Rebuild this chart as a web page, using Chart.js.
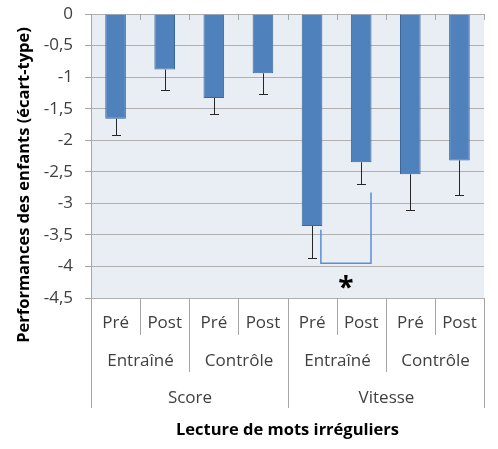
<!DOCTYPE html>
<html lang="fr">
<head>
  <meta charset="UTF-8" />
  <title>Lecture de mots irréguliers</title>
  <script src="https://cdn.jsdelivr.net/npm/chart.js"></script>
  <style>
    body {
      margin: 0;
      background: #ffffff;
    }

    .chart-box {
      width: 498px;
      height: 449px;
    }
  </style>
</head>
<body>
  <div class="chart-box">
    <canvas id="chart" width="498" height="449"></canvas>
  </div>

  <script>
    // Data
    const phases = ['Pré', 'Post', 'Pré', 'Post', 'Pré', 'Post', 'Pré', 'Post'];
    const groups = ['Entraîné', 'Contrôle', 'Entraîné', 'Contrôle'];
    const measures = ['Score', 'Vitesse'];
    const means = [-1.66, -0.88, -1.33, -0.94, -3.36, -2.35, -2.54, -2.32];
    const errors = [0.25, 0.32, 0.25, 0.32, 0.50, 0.35, 0.56, 0.55];
    const yMin = -4.5;
    const yMax = 0;
    const yStep = 0.5;

    // significance bracket between Vitesse / Entraîné Pré and Post
    const bracketFrom = 4;
    const bracketTo = 5;
    const bracketLeftTop = -3.42;
    const bracketBottom = -3.95;
    const bracketRightTop = -2.83;
    const starValue = -4.25;

    const yTitle = 'Performances des enfants (écart-type)';
    const xTitle = 'Lecture de mots irréguliers';

    const FONT = "'Open Sans', sans-serif";
    const gridGrey = '#b0b0b0';
    const axisGrey = '#a6a6a6';

    const plotBackground = {
      id: 'plotBackground',
      beforeDraw(chart) {
        const { ctx, chartArea: a } = chart;
        ctx.save();
        ctx.fillStyle = '#e9edf4';
        ctx.fillRect(a.left, a.top, a.right - a.left, a.bottom - a.top);
        ctx.restore();
      }
    };

    const errorBars = {
      id: 'errorBars',
      afterDatasetsDraw(chart) {
        const { ctx } = chart;
        const y = chart.scales.y;
        const bars = chart.getDatasetMeta(0).data;
        ctx.save();
        ctx.strokeStyle = '#262626';
        ctx.lineWidth = 1;
        bars.forEach((bar, i) => {
          const x = Math.round(bar.x) + 0.5;
          const y1 = y.getPixelForValue(means[i]);
          const y2 = Math.round(y.getPixelForValue(means[i] - errors[i])) + 0.5;
          ctx.beginPath();
          ctx.moveTo(x, y1);
          ctx.lineTo(x, y2);
          ctx.moveTo(x - 4.5, y2);
          ctx.lineTo(x + 4.5, y2);
          ctx.stroke();
        });

        // bracket + star
        const b1 = bars[bracketFrom];
        const b2 = bars[bracketTo];
        const xl = b1.x + b1.width / 2 - 1.5;
        const xr = b2.x + b2.width / 2 - 0.5;
        ctx.strokeStyle = '#5b8ed6';
        ctx.lineWidth = 1.5;
        ctx.beginPath();
        ctx.moveTo(xl, y.getPixelForValue(bracketLeftTop));
        ctx.lineTo(xl, y.getPixelForValue(bracketBottom));
        ctx.lineTo(xr, y.getPixelForValue(bracketBottom));
        ctx.lineTo(xr, y.getPixelForValue(bracketRightTop));
        ctx.stroke();

        ctx.fillStyle = '#000000';
        ctx.font = 'bold 28px ' + FONT;
        ctx.textAlign = 'center';
        ctx.textBaseline = 'alphabetic';
        const m = ctx.measureText('*');
        const cy = y.getPixelForValue(starValue);
        ctx.fillText('*', (xl + xr) / 2, cy + (m.actualBoundingBoxAscent - m.actualBoundingBoxDescent) / 2);
        ctx.restore();
      }
    };

    // Multi-level category axis, zero-line ticks and axis titles
    const categoryAxis = {
      id: 'categoryAxis',
      afterDraw(chart) {
        const { ctx, chartArea: a } = chart;
        const x = chart.scales.x;
        const n = phases.length;
        const w = (a.right - a.left) / n;
        const edge = k => Math.round(x.getPixelForValue(k) - w / 2) + 0.5;
        const bottom = Math.round(a.bottom);
        const top = Math.round(a.top);

        ctx.save();
        ctx.strokeStyle = axisGrey;
        ctx.lineWidth = 1;
        for (let k = 0; k <= n; k++) {
          const xe = edge(k);
          let len = 37;
          if (k % 4 === 0) len = 110;
          else if (k % 2 === 0) len = 74;
          ctx.beginPath();
          ctx.moveTo(xe, bottom);
          ctx.lineTo(xe, bottom + len);
          // small ticks under the zero line
          ctx.moveTo(xe, top);
          ctx.lineTo(xe, top + 6);
          ctx.stroke();
        }

        ctx.fillStyle = '#404040';
        ctx.font = '17px ' + FONT;
        ctx.textAlign = 'center';
        ctx.textBaseline = 'middle';
        phases.forEach((p, i) => {
          ctx.fillText(p, x.getPixelForValue(i), bottom + 25);
        });
        groups.forEach((g, i) => {
          ctx.fillText(g, (edge(i * 2) + edge(i * 2 + 2)) / 2, bottom + 63);
        });
        measures.forEach((m, i) => {
          ctx.fillText(m, (edge(i * 4) + edge(i * 4 + 4)) / 2, bottom + 100);
        });

        ctx.fillStyle = '#000000';
        ctx.font = 'bold 16.5px ' + FONT;
        ctx.fillText(xTitle, (a.left + a.right) / 2, 430);

        ctx.translate(24, 185);
        ctx.rotate(-Math.PI / 2);
        ctx.fillText(yTitle, 0, 0);
        ctx.restore();
      }
    };

    new Chart(document.getElementById('chart'), {
      type: 'bar',
      data: {
        labels: phases,
        datasets: [{
          data: means,
          backgroundColor: '#4f81bd',
          borderColor: '#3b6699',
          borderWidth: 1,
          categoryPercentage: 1,
          barPercentage: 0.42
        }]
      },
      options: {
        responsive: false,
        animation: false,
        events: [],
        layout: { padding: { top: 14, right: 14, left: 0, bottom: 0 } },
        plugins: {
          legend: { display: false },
          tooltip: { enabled: false }
        },
        scales: {
          x: {
            ticks: { display: false },
            grid: { display: false },
            border: { display: false },
            afterFit: s => { s.height = 151; }
          },
          y: {
            min: yMin,
            max: yMax,
            ticks: {
              stepSize: yStep,
              padding: 12,
              color: '#404040',
              font: { family: FONT, size: 17 },
              callback: v => String(v).replace('.', ',')
            },
            grid: {
              color: gridGrey,
              tickColor: axisGrey,
              tickLength: 6
            },
            border: { color: axisGrey, width: 1 },
            afterFit: s => {
              s.width = 91;
              s.paddingTop = 0;
              s.paddingBottom = 0;
            }
          }
        }
      },
      plugins: [plotBackground, errorBars, categoryAxis]
    });
  </script>
</body>
</html>
